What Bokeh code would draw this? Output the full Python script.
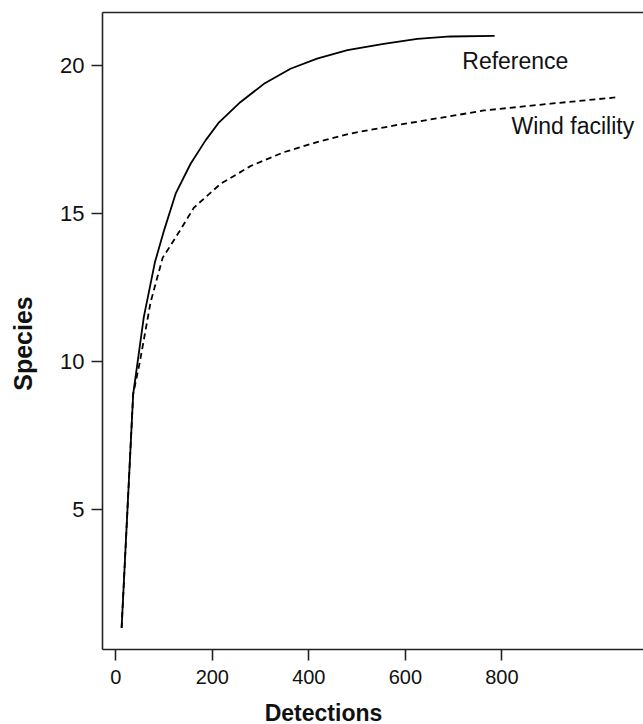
import math
from bokeh.plotting import figure
from bokeh.models import FixedTicker, LinearAxis, Label, Range1d
from bokeh.embed import file_html
from bokeh.resources import INLINE

# ---- data ----
ref_x = [12, 36, 58, 81, 100, 124, 155, 186, 214, 258, 307, 362, 417, 480, 555, 625, 694, 785]
ref_y = [1.0, 8.9, 11.5, 13.35, 14.43, 15.67, 16.68, 17.47, 18.08, 18.76, 19.38, 19.89, 20.23, 20.52, 20.73, 20.9, 20.98, 21.0]

wind_x = [12, 36, 50, 72, 97, 132, 162, 217, 279, 348, 417, 486, 586, 625, 763, 901, 1042]
wind_y = [1.0, 8.9, 10.0, 12.0, 13.5, 14.4, 15.2, 16.0, 16.6, 17.07, 17.41, 17.7, 18.0, 18.1, 18.48, 18.71, 18.93]

x_ticks = [0, 200, 400, 600, 800]
y_ticks = [5, 10, 15, 20]

series_names = ["Reference", "Wind facility"]
label_pos = [(718, 20.14), (820, 17.94)]

x_title = "Detections"
y_title = "Species"

FONT = "Liberation Sans"

p = figure(width=643, height=724, output_backend="svg", toolbar_location=None,
           x_range=Range1d(-27.6, 1093.6), y_range=Range1d(0.27, 21.79),
           min_border_left=102, min_border_right=0, min_border_top=12, min_border_bottom=75)
p.grid.visible = False
p.outline_line_color = None
p.background_fill_color = "white"
p.border_fill_color = "white"

p.line(ref_x, ref_y, line_color="black", line_width=1.8)
p.line(wind_x, wind_y, line_color="black", line_width=1.8, line_dash="6 4")

for ax in (p.xaxis[0], p.yaxis[0]):
    ax.axis_line_color = "#222222"
    ax.axis_line_width = 1.6
    ax.major_tick_line_color = "#222222"
    ax.major_tick_line_width = 1.6
    ax.major_tick_out = 11
    ax.major_tick_in = 0
    ax.minor_tick_line_color = None
    ax.major_label_text_font = FONT
    ax.major_label_text_color = "#111111"

p.xaxis[0].ticker = FixedTicker(ticks=x_ticks)
p.yaxis[0].ticker = FixedTicker(ticks=y_ticks)
p.xaxis[0].major_label_text_font_size = "20px"
p.yaxis[0].major_label_text_font_size = "22px"
p.xaxis[0].major_label_standoff = 9
p.yaxis[0].major_label_standoff = 7

top = LinearAxis(ticker=FixedTicker(ticks=[]), axis_line_color="#222222", axis_line_width=1.6,
                 major_tick_line_color=None, minor_tick_line_color=None,
                 major_label_text_font_size="0px")
p.add_layout(top, "above")

# axis titles, placed in the side panels (screen units relative to each panel)
p.add_layout(Label(x=221, y=0, x_units="screen", y_units="screen", text=x_title,
                   text_font=FONT, text_font_size="23px", text_font_style="bold",
                   text_align="center", text_baseline="middle", text_color="#111111"), "below")
p.add_layout(Label(x=-7, y=306, x_units="screen", y_units="screen", text=y_title,
                   text_font=FONT, text_font_size="25px", text_font_style="bold",
                   angle=math.pi / 2, text_align="center", text_baseline="middle",
                   text_color="#111111"), "left")

for name, (lx, ly) in zip(series_names, label_pos):
    p.add_layout(Label(x=lx, y=ly, text=name, text_font=FONT, text_font_size="23px",
                       text_align="left", text_baseline="middle", text_color="#111111"))

open("out.html", "w").write(file_html(p, INLINE))
